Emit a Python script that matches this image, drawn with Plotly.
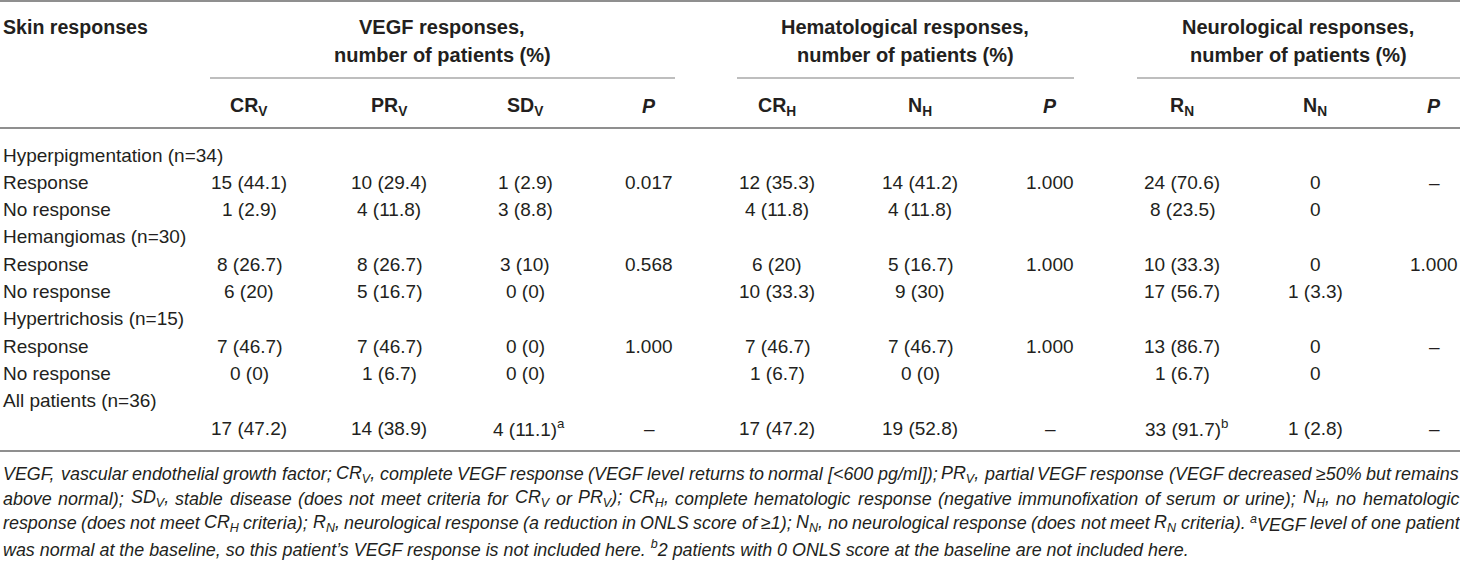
import re
import html
import plotly.graph_objects as go

# table values, one list per column (rows top to bottom)
row_labels = ["Hyperpigmentation (n=34)", "Response", "No response",
              "Hemangiomas (n=30)", "Response", "No response",
              "Hypertrichosis (n=15)", "Response", "No response",
              "All patients (n=36)", ""]

cr_v = ["", "15 (44.1)", "1 (2.9)", "", "8 (26.7)", "6 (20)", "", "7 (46.7)", "0 (0)", "", "17 (47.2)"]
pr_v = ["", "10 (29.4)", "4 (11.8)", "", "8 (26.7)", "5 (16.7)", "", "7 (46.7)", "1 (6.7)", "", "14 (38.9)"]
sd_v = ["", "1 (2.9)", "3 (8.8)", "", "3 (10)", "0 (0)", "", "0 (0)", "0 (0)", "", "4 (11.1)<sup>a</sup>"]
p_v = ["", "0.017", "", "", "0.568", "", "", "1.000", "", "", "–"]

cr_h = ["", "12 (35.3)", "4 (11.8)", "", "6 (20)", "10 (33.3)", "", "7 (46.7)", "1 (6.7)", "", "17 (47.2)"]
n_h = ["", "14 (41.2)", "4 (11.8)", "", "5 (16.7)", "9 (30)", "", "7 (46.7)", "0 (0)", "", "19 (52.8)"]
p_h = ["", "1.000", "", "", "1.000", "", "", "1.000", "", "", "–"]

r_n = ["", "24 (70.6)", "8 (23.5)", "", "10 (33.3)", "17 (56.7)", "", "13 (86.7)", "1 (6.7)", "", "33 (91.7)<sup>b</sup>"]
n_n = ["", "0", "0", "", "0", "1 (3.3)", "", "0", "0", "", "1 (2.8)"]
p_n = ["", "–", "", "", "1.000", "", "", "–", "", "", "–"]

# header texts
corner_label = "Skin responses"
group_labels = ["VEGF responses,<br>number of patients (%)",
                "Hematological responses,<br>number of patients (%)",
                "Neurological responses,<br>number of patients (%)"]
sub_labels = ["CR<sub>V</sub>", "PR<sub>V</sub>", "SD<sub>V</sub>", "<i>P</i>",
              "CR<sub>H</sub>", "N<sub>H</sub>", "<i>P</i>",
              "R<sub>N</sub>", "N<sub>N</sub>", "<i>P</i>"]

footnote_lines = [
    "VEGF, vascular endothelial growth factor; CR<sub>V</sub>, complete VEGF response (VEGF level returns to normal [&lt;600 pg/ml]); PR<sub>V</sub>, partial VEGF response (VEGF decreased ≥50% but remains",
    "above normal); SD<sub>V</sub>, stable disease (does not meet criteria for CR<sub>V</sub> or PR<sub>V</sub>); CR<sub>H</sub>, complete hematologic response (negative immunofixation of serum or urine); N<sub>H</sub>, no hematologic",
    "response (does not meet CR<sub>H</sub> criteria); R<sub>N</sub>, neurological response (a reduction in ONLS score of ≥1); N<sub>N</sub>, no neurological response (does not meet R<sub>N</sub> criteria). <sup>a</sup>VEGF level of one patient",
    "was normal at the baseline, so this patient’s VEGF response is not included here. <sup>b</sup>2 patients with 0 ONLS score at the baseline are not included here.",
]

columns = [cr_v, pr_v, sd_v, p_v, cr_h, n_h, p_h, r_n, n_n, p_n]

# layout (pixel space, y goes down)
W, H = 1460, 561
col_x = [249, 389, 525, 649, 777, 920, 1050, 1182, 1315, 1434]
group_x = [442, 905, 1298]
group_rules = [(210, 675), (737, 1074), (1137, 1460)]
row_y0, row_dy = 155, 27.3
foot_y = [474, 498.5, 523, 548]
foot_left, foot_right = 2, 1458

FONT = "Liberation Sans"
TXT = "#231f20"
SIZE = 19
BOLD_SIZE = 19.6
GROUP_SIZE = 20
FOOT_SIZE = 17.9

# arial / liberation sans advance widths (per 1000 em), for justifying the footnote
AW = {' ': 278, ',': 278, '.': 278, ';': 278, ':': 278, '(': 333, ')': 333, '[': 278, ']': 278,
      '<': 584, '=': 584, '%': 889, '≥': 549, '’': 222, '/': 278, '-': 333}
AW.update({d: 556 for d in "0123456789"})
AW.update(dict(zip("ABCDEFGHIJKLMNOPQRSTUVWXYZ",
                   [667, 667, 722, 722, 667, 611, 778, 722, 278, 500, 667, 556, 833,
                    722, 778, 667, 778, 722, 667, 611, 722, 667, 944, 667, 667, 611])))
AW.update(dict(zip("abcdefghijklmnopqrstuvwxyz",
                   [556, 556, 500, 556, 556, 278, 556, 556, 222, 222, 500, 222, 833,
                    556, 556, 556, 556, 333, 500, 278, 556, 500, 722, 500, 500, 500])))

fig = go.Figure()


def add_text(x, y, text, anchor="center", bold=False, italic=False, size=SIZE, xshift=0):
    if bold:
        text = "<b>" + text + "</b>"
    if italic:
        text = "<i>" + text + "</i>"
    fig.add_annotation(x=x, y=y, xref="x", yref="y", text=text, showarrow=False,
                       xanchor=anchor, yanchor="middle", xshift=xshift, borderpad=0,
                       font=dict(family=FONT, size=size, color=TXT))


def hline(y, x0, x1, color="#8f8f8f", width=1.5):
    fig.add_shape(type="line", x0=x0, x1=x1, y0=y, y1=y, xref="x", yref="y",
                  line=dict(color=color, width=width))


def word_width(word, size):
    # sub/sup text is drawn at 70% size by plotly
    total = 0
    for m in re.finditer(r"<(sub|sup)>(.*?)</\1>|([^<]+)", word):
        if m.group(3):
            total += sum(AW.get(c, 556) for c in html.unescape(m.group(3)))
        else:
            total += 0.7 * sum(AW.get(c, 556) for c in html.unescape(m.group(2)))
    return total * size / 1000


def justified_line(y, line):
    # place each word so the line fills the full width, like the printed table
    words = line.split(" ")
    widths = [word_width(w, FOOT_SIZE) for w in words]
    gap = max(2, (foot_right - foot_left - sum(widths)) / (len(words) - 1))
    x = foot_left
    for w, wd in zip(words, widths):
        add_text(x, y, w, anchor="left", italic=True, size=FOOT_SIZE)
        x += wd + gap


# header
add_text(2, 27, corner_label, anchor="left", bold=True, size=BOLD_SIZE)
for gx, lab in zip(group_x, group_labels):
    first, second = lab.split("<br>")
    add_text(gx, 27, first, bold=True, size=GROUP_SIZE)
    add_text(gx, 55, second, bold=True, size=GROUP_SIZE)
for cx, lab in zip(col_x, sub_labels):
    add_text(cx, 106, lab, bold=True, size=BOLD_SIZE)

# body
for i, lab in enumerate(row_labels):
    y = row_y0 + i * row_dy
    if lab:
        add_text(2, y, lab, anchor="left")
    for cx, col in zip(col_x, columns):
        val = col[i]
        if not val:
            continue
        # keep superscript marks out of the centring
        shift = 4 if "<sup>" in val else 0
        add_text(cx, y, val, xshift=shift)

# footnote: first lines justified, last one left aligned
for fy, line in zip(foot_y[:-1], footnote_lines[:-1]):
    justified_line(fy, line)
add_text(foot_left, foot_y[-1], footnote_lines[-1], anchor="left", italic=True, size=FOOT_SIZE)

# rules
hline(1, 0, W, width=2)
for x0, x1 in group_rules:
    hline(78, x0, x1, color="#a8a8a8")
hline(128, 0, W, width=2)
hline(451, 0, W, width=2)

fig.update_layout(width=W, height=H, margin=dict(l=0, r=0, t=0, b=0),
                  paper_bgcolor="white", plot_bgcolor="white", showlegend=False,
                  xaxis=dict(range=[0, W], visible=False, fixedrange=True),
                  yaxis=dict(range=[H, 0], visible=False, fixedrange=True))

# page body has an 8px margin by default, drop it so the table sits at the corner
fig.write_html("out.html", config={"displayModeBar": False},
               post_script="document.body.style.margin='0';")
